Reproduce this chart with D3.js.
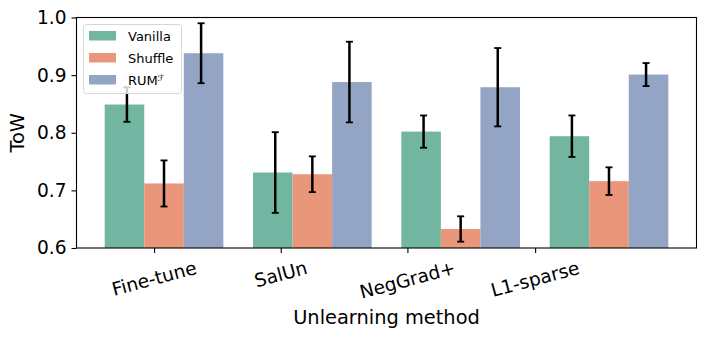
<!DOCTYPE html>
<html>
<head>
<meta charset="utf-8">
<script src="https://cdn.jsdelivr.net/npm/d3@7"></script>
</head>
<body style="margin:0;background:#fff">
<svg id="chart" width="706" height="338" style="font-family:'DejaVu Sans'"></svg>
<script>
const methods = ['Fine-tune', 'SalUn', 'NegGrad+', 'L1-sparse'];
const seriesNames = ['Vanilla', 'Shuffle', 'RUM'];
const vanilla = [0.849, 0.731, 0.802, 0.794];
const vanillaErr = [0.030, 0.070, 0.028, 0.036];
const shuffle = [0.712, 0.728, 0.633, 0.716];
const shuffleErr = [0.040, 0.031, 0.022, 0.024];
const rum = [0.938, 0.888, 0.879, 0.901];
const rumErr = [0.052, 0.070, 0.068, 0.020];
const yTicks = [0.6, 0.7, 0.8, 0.9, 1.0];
// tick positions do not sit under the group centres in the original
const xTickPositions = [-0.067, 0.787, 1.641, 2.502];

const colors = ['#72b6a1', '#e9967a', '#94a4c4'];
const barWidth = 0.8 / 3;
const errStep = 0.25;

const margin = { top: 17.5, right: 9.5, bottom: 90, left: 76.5 };
const svg = d3.select('#chart');
const W = +svg.attr('width');
const width = W - margin.left - margin.right;
const height = 248 - margin.top;

const series = [
  { name: seriesNames[0], values: vanilla, errs: vanillaErr },
  { name: seriesNames[1], values: shuffle, errs: shuffleErr },
  { name: seriesNames[2], values: rum, errs: rumErr }
];

const x = d3.scaleLinear().domain([-0.59, 3.59]).range([0, width]);
const y = d3.scaleLinear().domain([0.6, 1.0]).range([height, 0]);

const g = svg.append('g').attr('transform', `translate(${margin.left},${margin.top})`);

// bars
const bars = [];
series.forEach((s, j) => {
  s.values.forEach((v, i) => {
    bars.push({ j, i, v, e: s.errs[i] });
  });
});

g.selectAll('.bar')
  .data(bars)
  .join('rect')
  .attr('class', 'bar')
  .attr('x', d => x(d.i + (d.j - 1) * barWidth - barWidth / 2))
  .attr('width', d => x(barWidth) - x(0))
  .attr('y', d => y(d.v))
  .attr('height', d => y(0.6) - y(d.v))
  .attr('fill', d => colors[d.j]);

// error bars
const eb = g.selectAll('.err')
  .data(bars)
  .join('g')
  .attr('class', 'err')
  .attr('transform', d => `translate(${x(d.i + (d.j - 1) * errStep)},0)`);

eb.append('line')
  .attr('y1', d => y(d.v + d.e))
  .attr('y2', d => y(d.v - d.e))
  .attr('stroke', '#000')
  .attr('stroke-width', 2.5);

eb.selectAll('.cap')
  .data(d => [d.v + d.e, d.v - d.e])
  .join('line')
  .attr('class', 'cap')
  .attr('x1', -3.5)
  .attr('x2', 3.5)
  .attr('y1', d => y(d))
  .attr('y2', d => y(d))
  .attr('stroke', '#000')
  .attr('stroke-width', 1.8);

// axes
const axisY = d3.axisLeft(y)
  .tickValues(yTicks)
  .tickFormat(d3.format('.1f'))
  .tickSize(5)
  .tickPadding(5);

const gy = g.append('g').call(axisY);
gy.select('.domain').remove();
gy.selectAll('.tick line').attr('stroke', '#000').attr('stroke-width', 1.1);
gy.selectAll('.tick text')
  .attr('font-size', '18.6px')
  .attr('font-family', "'DejaVu Sans', sans-serif")
  .attr('fill', '#000');

const axisX = d3.axisBottom(x)
  .tickValues(xTickPositions)
  .tickFormat('')
  .tickSize(5);

const gx = g.append('g').attr('transform', `translate(0,${height})`).call(axisX);
gx.select('.domain').remove();
gx.selectAll('.tick line').attr('stroke', '#000').attr('stroke-width', 1.1);
gx.selectAll('.tick text').remove();

// rotated category labels: each glyph is placed along a baseline tilted 15 degrees
// and turned with the per-glyph rotate attribute
const angle = 15;
const fs = 18.6;
const rad = angle * Math.PI / 180;
const cos = Math.cos(rad);
const sin = Math.sin(rad);
xTickPositions.forEach((p, i) => {
  const label = methods[i];
  const t = svg.append('text')
    .attr('class', 'xlabel')
    .attr('font-size', fs + 'px')
    .attr('fill', '#000')
    .text(label);
  const node = t.node();
  const w = node.getComputedTextLength() || label.length * fs * 0.58;
  const offsets = [];
  for (let k = 0; k < label.length; k++) {
    let s = k === 0 ? 0 : node.getSubStringLength(0, k);
    if (!isFinite(s)) s = k * w / label.length;
    offsets.push(s);
  }
  const boxH = w * sin + fs * 1.17 * cos;
  const cx = margin.left + x(p);
  const cy = margin.top + height + 8.5 + boxH / 2;
  // start of the baseline, rotated about the label centre
  const dx = -w / 2;
  const dy = fs * 0.36;
  const bx = cx + dx * cos + dy * sin;
  const by = cy - dx * sin + dy * cos;
  t.attr('x', offsets.map(s => (bx + s * cos).toFixed(2)).join(' '))
    .attr('y', offsets.map(s => (by - s * sin).toFixed(2)).join(' '))
    .attr('rotate', offsets.map(() => -angle).join(' '));
});

// frame
g.append('rect')
  .attr('width', width)
  .attr('height', height)
  .attr('fill', 'none')
  .attr('stroke', '#000')
  .attr('stroke-width', 1.1);

// axis labels
svg.append('text')
  .attr('x', margin.left + width / 2)
  .attr('y', 324)
  .attr('text-anchor', 'middle')
  .attr('font-size', '19.4px')
  .text('Unlearning method');

svg.append('text')
  .attr('transform', `translate(24,${margin.top + height / 2}) rotate(-90)`)
  .attr('text-anchor', 'middle')
  .attr('font-size', '19.4px')
  .text('ToW');

// legend
const legend = svg.append('g').attr('transform', 'translate(83.5,24.5)');
legend.append('rect')
  .attr('width', 98)
  .attr('height', 69)
  .attr('rx', 3)
  .attr('fill', '#fff')
  .attr('fill-opacity', 0.8)
  .attr('stroke', '#d6d6d6')
  .attr('stroke-width', 1);

const items = legend.selectAll('.item')
  .data(series)
  .join('g')
  .attr('class', 'item')
  .attr('transform', (d, i) => `translate(5.5,${6.5 + i * 22})`);

items.append('rect')
  .attr('width', 27)
  .attr('height', 9.5)
  .attr('fill', (d, i) => colors[i]);

const labels = items.append('text')
  .attr('x', 39)
  .attr('y', 9.5)
  .attr('font-size', '13px')
  .attr('fill', '#000');

labels.append('tspan').text(d => d.name);
labels.filter((d, i) => i === 2)
  .append('tspan')
  .attr('dy', '-0.45em')
  .attr('font-size', '8.5px')
  .attr('font-style', 'italic')
  .text('ℱ');
</script>
</body>
</html>
